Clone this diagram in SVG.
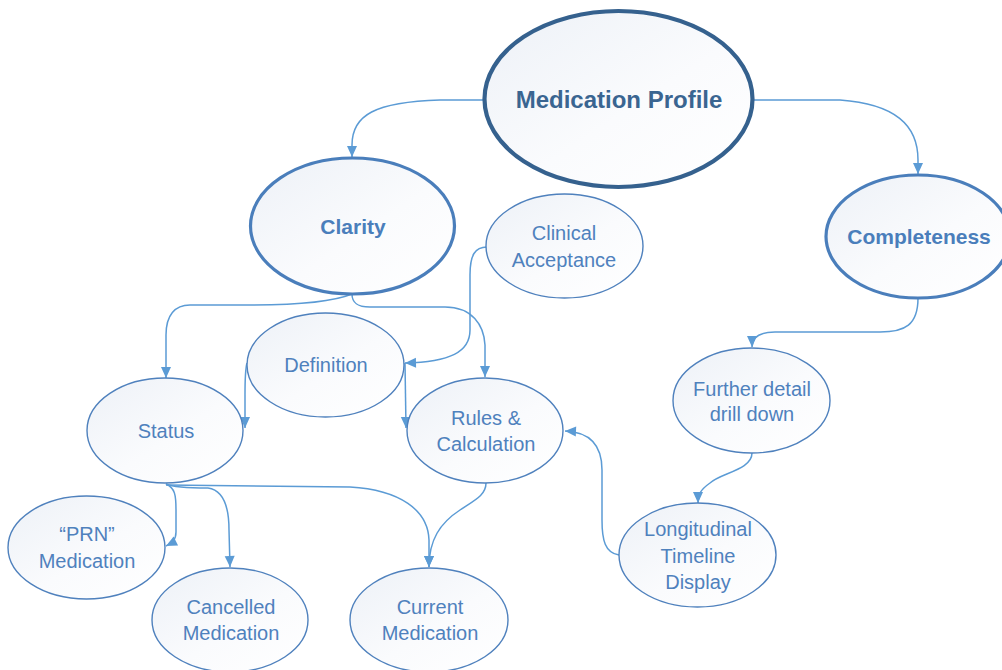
<svg xmlns="http://www.w3.org/2000/svg" width="1002" height="670" viewBox="0 0 1002 670">
<defs>
<linearGradient id="g" x1="0" y1="0" x2="1" y2="1">
<stop offset="0" stop-color="#EDF1F7"/>
<stop offset="0.55" stop-color="#FAFBFD"/>
<stop offset="1" stop-color="#FFFFFF"/>
</linearGradient>
<marker id="ah" markerUnits="userSpaceOnUse" markerWidth="13" markerHeight="13" viewBox="0 0 13 13" refX="12" refY="6.5" orient="auto">
<path d="M1,1.5 L12,6.5 L1,11.5 Z" fill="#5B9BD5"/>
</marker>
<style>
.n{fill:url(#g);stroke:#4F81BD;stroke-width:1.4}
.m{fill:url(#g);stroke:#4A7EBB;stroke-width:3.2}
.top{fill:url(#g);stroke:#35618E;stroke-width:4.2}
.t{font-family:"Liberation Sans",Arial,sans-serif;font-size:20px;fill:#4F81BD;text-anchor:middle}
.tb{font-family:"Liberation Sans",Arial,sans-serif;font-size:21px;font-weight:bold;fill:#4A7EBB;text-anchor:middle}
.tt{font-family:"Liberation Sans",Arial,sans-serif;font-size:24px;font-weight:bold;fill:#3A6591;text-anchor:middle}
.c{fill:none;stroke:#5B9BD5;stroke-width:1.5;marker-end:url(#ah)}
</style>
</defs>
<g id="connectors">
<path class="c" d="M485,100 L440,100 C375,102 352,115 352,145 L352,157"/>
<path class="c" d="M753,100 L840,100 C895,104 918,125 918,160 L918,174"/>
<path class="c" d="M918,298 C918,325 905,332 880,332 L775,332 C760,332 752,337 752,347"/>
<path class="c" d="M752,453 C752,470 720,473 710,483 C700,490 698,495 698,503"/>
<path class="c" d="M619,555 C605,553 602,540 602,520 L602,470 C602,445 590,432 565,431"/>
<path class="c" d="M352,294 C330,303 290,305 250,305 L190,305 C175,305 166,315 166,335 L166,378"/>
<path class="c" d="M352,294 C352,302 356,307 370,307 L445,307 C472,307 484,325 485,345 L485,377"/>
<path class="c" d="M487,247 C475,247 470,255 470,275 L470,330 C470,352 450,362 405,363"/>
<path class="c" d="M247,363 C245,370 245,380 245,395 L245,428"/>
<path class="c" d="M405,363 L406,428"/>
<path class="c" d="M166,484 C175,488 176,495 176,510 L176,532 C176,540 172,543 166,546"/>
<path class="c" d="M166,484 C175,488 195,488 208,488 C222,490 229,505 229,530 L230,567"/>
<path class="c" d="M166,485 L350,487 C400,490 428,510 429,540 L429,567"/>
<path class="c" d="M486,483 C486,495 475,500 460,510 C440,523 429,540 429,567"/>
</g>
<g id="medication-profile">
<ellipse class="top" cx="618.5" cy="99" rx="134" ry="88"/>
<text class="tt" x="619" y="108">Medication Profile</text>
</g>
<g id="clarity">
<ellipse class="m" cx="352.5" cy="226" rx="102" ry="68"/>
<text class="tb" x="353" y="234">Clarity</text>
</g>
<g id="completeness">
<ellipse class="m" cx="918" cy="236.5" rx="92" ry="61.5"/>
<text class="tb" x="919" y="244">Completeness</text>
</g>
<g id="clinical-acceptance">
<ellipse class="n" cx="564.5" cy="246" rx="78.5" ry="52"/>
<text class="t" x="564" y="240">Clinical</text>
<text class="t" x="564" y="267">Acceptance</text>
</g>
<g id="definition">
<ellipse class="n" cx="325.5" cy="365" rx="78.5" ry="52"/>
<text class="t" x="326" y="372">Definition</text>
</g>
<g id="status">
<ellipse class="n" cx="165" cy="430.5" rx="78" ry="52.5"/>
<text class="t" x="166" y="438">Status</text>
</g>
<g id="rules-calculation">
<ellipse class="n" cx="485" cy="430.5" rx="78" ry="52.5"/>
<text class="t" x="486" y="425">Rules &amp;</text>
<text class="t" x="486" y="451">Calculation</text>
</g>
<g id="prn-medication">
<ellipse class="n" cx="86.5" cy="547.5" rx="78.5" ry="51.5"/>
<text class="t" x="87" y="541">“PRN”</text>
<text class="t" x="87" y="568">Medication</text>
</g>
<g id="cancelled-medication">
<ellipse class="n" cx="230" cy="620" rx="78" ry="52"/>
<text class="t" x="231" y="614">Cancelled</text>
<text class="t" x="231" y="640">Medication</text>
</g>
<g id="current-medication">
<ellipse class="n" cx="429" cy="620" rx="79" ry="52"/>
<text class="t" x="430" y="614">Current</text>
<text class="t" x="430" y="640">Medication</text>
</g>
<g id="further-detail">
<ellipse class="n" cx="751.5" cy="400.5" rx="78.5" ry="52.5"/>
<text class="t" x="752" y="396">Further detail</text>
<text class="t" x="752" y="421">drill down</text>
</g>
<g id="longitudinal-timeline">
<ellipse class="n" cx="697.5" cy="555" rx="78.5" ry="52"/>
<text class="t" x="698" y="536">Longitudinal</text>
<text class="t" x="698" y="563">Timeline</text>
<text class="t" x="698" y="589">Display</text>
</g>
</svg>
